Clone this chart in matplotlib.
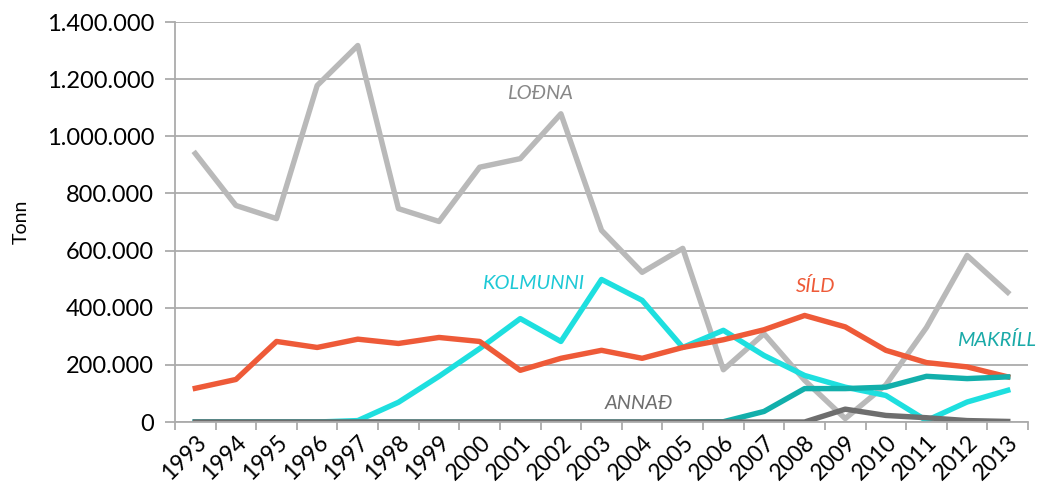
import matplotlib
matplotlib.use("Agg")
import matplotlib.pyplot as plt
from matplotlib.ticker import FuncFormatter, FixedLocator

plt.rcParams['font.family'] = ['Lato', 'DejaVu Sans']

years = list(range(1993, 2014))

lodna = [940000, 758000, 712000, 1178000, 1318000, 747000, 702000, 892000, 922000, 1079000,
         671000, 524000, 608000, 183000, 309000, 146000, 12000, 130000, 331000, 583000, 454000]
sild = [118000, 149000, 282000, 261000, 290000, 275000, 296000, 282000, 181000, 223000,
        251000, 223000, 261000, 288000, 323000, 373000, 333000, 251000, 208000, 193000, 158000]
kolmunni = [0, 0, 0, 0, 5000, 69000, 160000, 257000, 362000, 282000,
            499000, 426000, 261000, 321000, 233000, 163000, 122000, 93000, 5000, 70000, 111000]
makrill = [0, 0, 0, 0, 0, 0, 0, 0, 0, 0,
           0, 0, 0, 1000, 37000, 117000, 117000, 122000, 160000, 152000, 158000]
annad = [0, 0, 0, 0, 0, 0, 0, 0, 0, 0,
         0, 0, 0, 0, 0, 0, 45000, 23000, 15000, 5000, 2000]

fig = plt.figure(figsize=(10.38, 4.91), dpi=100)
ax = fig.add_axes([0.1686, 0.1405, 0.8218, 0.8145])

x = range(len(years))
lw = 3.9
ax.plot(x, lodna, color='#B9B9B9', lw=lw)
ax.plot(x, kolmunni, color='#1EDFDF', lw=lw)
ax.plot(x, sild, color='#EE5A38', lw=lw)
ax.plot(x, makrill, color='#12AFAB', lw=lw)
ax.plot(x, annad, color='#6E6E6E', lw=lw)

# series labels
lab = dict(style='italic', fontsize=14.5, ha='center', va='center')
ax.text(8.48, 1150000, 'LOÐNA', color='#888888', **lab)
ax.text(8.31, 485000, 'KOLMUNNI', color='#1EC9D6', **lab)
ax.text(15.27, 475000, 'SÍLD', color='#EE5A38', **lab)
ax.text(19.72, 286000, 'MAKRÍLL', color='#1AAAA8', **lab)
ax.text(10.91, 65000, 'ANNAÐ', color='#6E6E6E', **lab)

ax.set_xlim(-0.5, len(years) - 0.5)
ax.set_ylim(0, 1400000)
ax.set_yticks(range(0, 1400001, 200000))
ax.yaxis.set_major_formatter(FuncFormatter(lambda v, p: f"{int(v):,}".replace(',', '.')))
ax.grid(axis='y', color='#ABABAB', lw=1.3)
ax.set_axisbelow(True)

ax.set_xticks(list(x))
ax.set_xticklabels([str(y) for y in years], rotation=45, ha='right', rotation_mode='anchor')
ax.xaxis.set_minor_locator(FixedLocator([i - 0.5 for i in range(len(years) + 1)]))
ax.tick_params(axis='x', which='major', length=0, labelsize=16.5, pad=7)
ax.tick_params(axis='x', which='minor', length=6, color='#ABABAB', width=1.3)
ax.tick_params(axis='y', length=7, color='#ABABAB', width=1.3, labelsize=17, pad=8)

for s in ['top', 'right']:
    ax.spines[s].set_visible(False)
for s in ['left', 'bottom']:
    ax.spines[s].set_color('#ABABAB')
    ax.spines[s].set_linewidth(1.3)

ax.set_ylabel('Tonn', fontsize=14, labelpad=12)

fig.savefig('out.png', dpi=100)
